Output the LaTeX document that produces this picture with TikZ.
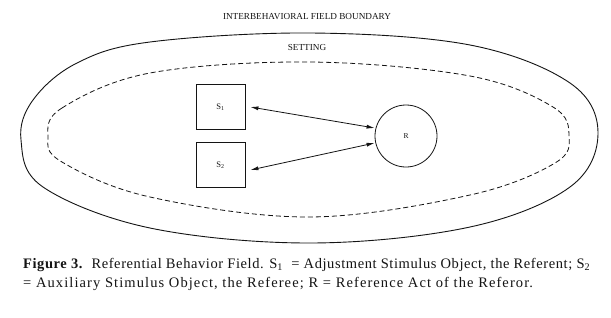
\documentclass[tikz,border=0pt]{standalone}
\usepackage{fontspec}
\setmainfont{Liberation Serif}
\usetikzlibrary{arrows.meta,backgrounds}
\definecolor{paper}{HTML}{FFFFFF}
\definecolor{ink}{HTML}{141414}

\begin{document}
\begin{tikzpicture}[
    x=1pt, y=-1pt,
    stim/.style={rectangle, draw=ink, line width=0.8pt, minimum width=49pt, minimum height=45pt,
                 inner sep=0pt, font=\fontsize{8.5}{9}\selectfont, text=ink},
    act/.style={circle, draw=ink, line width=0.8pt, minimum size=62pt, inner sep=0pt,
                font=\fontsize{7.5}{8}\selectfont, text=ink},
    link/.style={draw=ink, line width=0.8pt, {Latex[length=8pt,width=4pt]}-{Latex[length=8pt,width=4pt]}},
    rim/.style={draw=ink, line width=0.9pt},
    zone/.style={draw=ink, line width=0.8pt, dash pattern=on 5pt off 3pt},
    head/.style={font=\fontsize{9.2}{10}\selectfont, text=ink},
    caption/.style={font=\fontsize{14.5}{19}\selectfont, text=ink, align=left, inner sep=0pt},
  ]

  % Bildfläche mit den Rändern der Vorlage
  \begin{scope}[on background layer]
    \fill[paper] (0,0) rectangle (611,317);
  \end{scope}
  \useasboundingbox (0,0) rectangle (611,317);

  % äußere Feldgrenze und gestrichelter Rahmen
  \draw[rim] plot[smooth cycle, tension=0.6] coordinates {
      (21,140) (33,100) (77,63) (150,42) (311,33) (470,45) (570,83) (598,133)
      (570,187) (470,227) (311,243) (150,228) (43,187)};
  \draw[zone] plot[smooth cycle, tension=0.6] coordinates {
      (48,137) (62,108) (150,73) (310,62) (470,76) (553,107) (569,136)
      (555,163) (470,195) (310,217) (150,197) (62,162)};

  % Reizobjekte und Bezugsakt
  \node[stim] (s1) at (220.5,107) {S\textsubscript{1}};
  \node[stim] (s2) at (220.5,165) {S\textsubscript{2}};
  \node[act]  (r)  at (406,136) {R};

  \draw[link] ([xshift=5pt]s1.east) -- ([yshift=8pt]r.west);
  \draw[link] ([xshift=5pt, yshift=-5pt]s2.east) -- ([yshift=-7pt]r.west);

  % Beschriftungen
  \node[head] (field) at (307,17) {INTERBEHAVIORAL FIELD BOUNDARY};
  \node[head] (setting) at (307,47) {SETTING};
  \node[caption, anchor=base west] (cap) at (23,287)
    {{\addfontfeature{LetterSpace=4}\textbf{Figure 3.}\ \ Referential Behavior Field. S\textsubscript{1}\ \ = Adjustment Stimulus Object, the Referent; S\textsubscript{2}}\\
     {\addfontfeature{LetterSpace=7.5}= Auxiliary Stimulus Object, the Referee; R = Reference Act of the Referor.}};

\end{tikzpicture}
\end{document}
